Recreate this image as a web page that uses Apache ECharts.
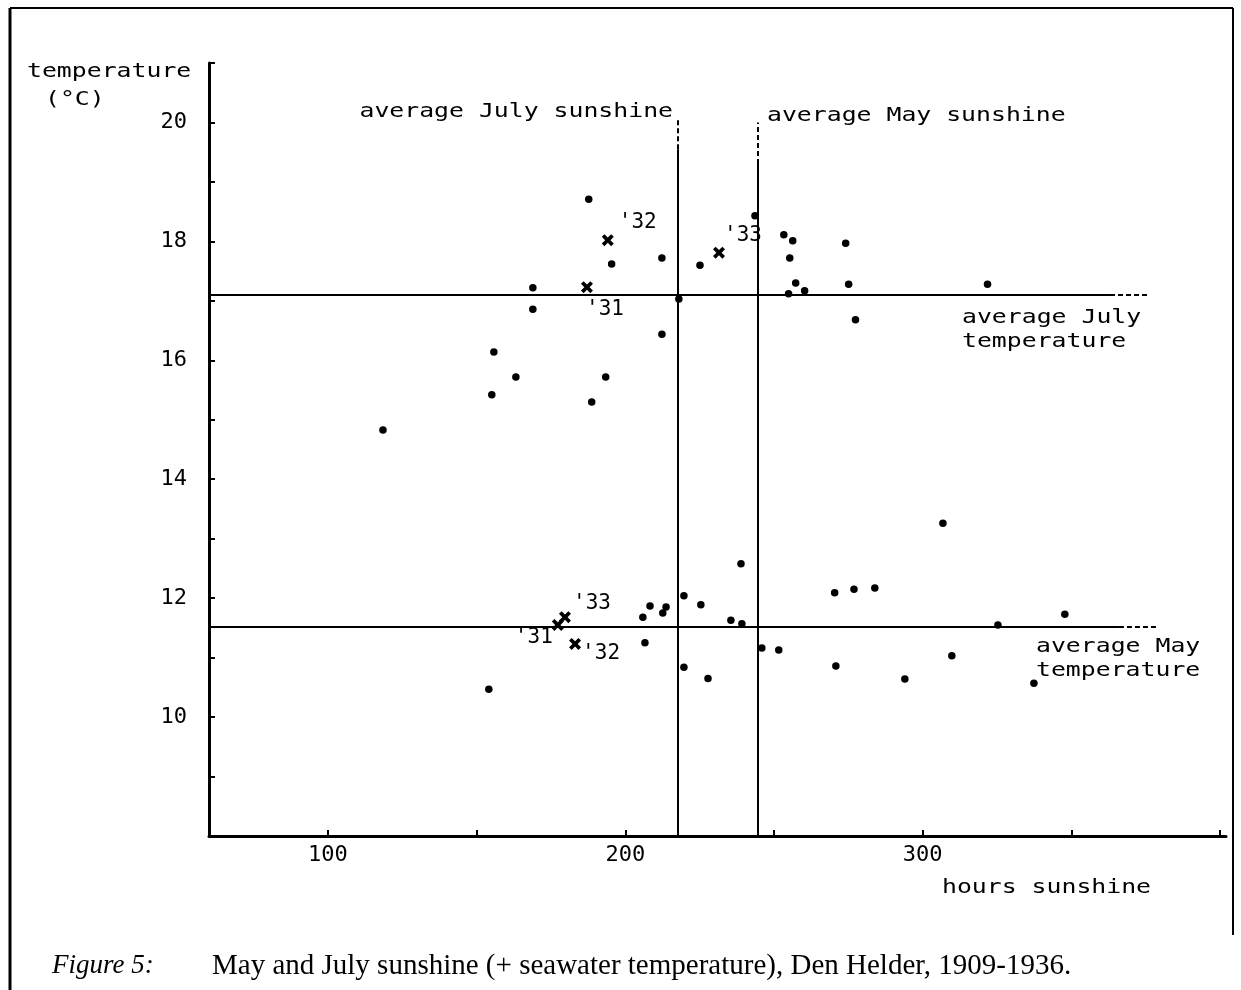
<!DOCTYPE html>
<html>
<head>
<meta charset="utf-8">
<title>May and July sunshine, Den Helder</title>
<script src="https://cdn.jsdelivr.net/npm/echarts@6/dist/echarts.min.js"></script>
<style>
  html, body { margin: 0; padding: 0; background: #fff; }
  #chart { width: 1241px; height: 990px; }
</style>
</head>
<body>
<div id="chart"></div>
<script>
// Monthly sunshine (hours) and seawater temperature (°C), Den Helder 1909-1936
const julySunshine = [118.5, 155.8, 155.1, 163.2, 168.9, 168.9, 187.7, 188.7, 193.4, 195.4,
                      212.3, 212.3, 218.0, 225.1, 243.6, 253.3, 256.3, 255.3, 257.3, 254.9,
                      260.3, 274.1, 275.1, 277.4, 321.8];
const julyTemp     = [14.83, 16.14, 15.42, 15.72, 17.22, 16.86, 18.71, 15.30, 15.72, 17.62,
                      17.72, 16.44, 17.03, 17.60, 18.43, 18.11, 18.01, 17.72, 17.30, 17.12,
                      17.17, 17.97, 17.28, 16.68, 17.28];
const maySunshine  = [154.1, 205.9, 208.3, 212.6, 213.7, 206.6, 219.7, 219.7, 225.4, 227.8,
                      238.9, 235.5, 239.2, 245.9, 251.6, 270.4, 270.8, 306.8, 276.9, 283.9,
                      294.0, 309.8, 325.3, 337.4, 347.8];
const mayTemp      = [10.47, 11.68, 11.87, 11.75, 11.85, 11.25, 12.04, 10.84, 11.89, 10.65,
                      12.58, 11.63, 11.57, 11.16, 11.13, 12.09, 10.86, 13.26, 12.15, 12.17,
                      10.64, 11.03, 11.55, 10.57, 11.73];

// highlighted years 1931-1933
const markedYears      = ["'31", "'32", "'33"];
const julyMarkSunshine = [187.1, 194.1, 231.5];
const julyMarkTemp     = [17.23, 18.02, 17.81];
const mayMarkSunshine  = [177.3, 183.1, 179.7];
const mayMarkTemp      = [11.55, 11.23, 11.68];

// long-term averages
const avgJulySunshine = 217.5;
const avgMaySunshine  = 244.5;
const avgJulyTemp     = 17.1;
const avgMayTemp      = 11.52;

// axis ticks
const xTickValues  = [100, 150, 200, 250, 300, 350, 400];
const xLabelValues = [100, 200, 300];
const yLabelValues = [10, 12, 14, 16, 18, 20];

const MONO = '"DejaVu Sans Mono", monospace';
const INK = '#000';

// label offsets for the year marks (pixels, relative to the mark)
const julyYearOffsets = [[18, 22], [30, -18], [24, -17]];
const mayYearOffsets  = [[-24, 13], [26, 10], [27, -14]];

function pairs(xs, ys) { return xs.map((x, i) => [x, ys[i]]); }

function yearMarks(xs, ys, offsets) {
  return xs.map((x, i) => ({
    value: [x, ys[i]],
    label: {
      show: true, formatter: markedYears[i], offset: offsets[i], position: 'inside',
      color: INK, textBorderWidth: 0, fontFamily: MONO, fontSize: 21
    }
  }));
}

const crossPath = 'path://M2.2,0 L5,2.8 L7.8,0 L10,2.2 L7.2,5 L10,7.8 L7.8,10 L5,7.2 L2.2,10 L0,7.8 L2.8,5 L0,2.2 Z';

const solid = { type: 'solid', width: 2, color: INK };
const dashed = { type: [5, 3], width: 2, color: INK };

function seg(x1, y1, x2, y2, style) {
  return [{ coord: [x1, y1], lineStyle: style }, { coord: [x2, y2] }];
}

function monoText(x, y, text, align, sx) {
  return {
    type: 'text', x: x, y: y, scaleX: sx || 1.24, silent: true,
    style: { text: text, font: '20px ' + MONO, fill: INK, align: align || 'left', verticalAlign: 'middle' }
  };
}

const option = {
  backgroundColor: '#fff',
  animation: false,
  grid: { left: 209, top: 63, width: 1017, height: 773, containLabel: false },
  xAxis: {
    type: 'value', min: 60, max: 402,
    axisLine: { show: true, onZero: false, lineStyle: { color: INK, width: 3 } },
    axisTick: { show: true, inside: true, length: 6, lineStyle: { color: INK, width: 2 }, customValues: xTickValues },
    axisLabel: { color: INK, fontFamily: MONO, fontSize: 22, margin: 8, customValues: xLabelValues },
    splitLine: { show: false }
  },
  yAxis: {
    type: 'value', min: 8, max: 21, interval: 1,
    axisLine: { show: true, onZero: false, lineStyle: { color: INK, width: 3 } },
    axisTick: { show: true, inside: true, length: 6, lineStyle: { color: INK, width: 2 } },
    axisLabel: { color: INK, fontFamily: MONO, fontSize: 22, margin: 22, customValues: yLabelValues },
    splitLine: { show: false }
  },
  series: [
    {
      name: 'reference', type: 'scatter', data: [], silent: true,
      markLine: {
        silent: true, symbol: ['none', 'none'], label: { show: false },
        data: [
          seg(avgJulySunshine, 8, avgJulySunshine, 19.55, solid),
          seg(avgJulySunshine, 19.55, avgJulySunshine, 20.05, dashed),
          seg(avgMaySunshine, 8, avgMaySunshine, 19.3, solid),
          seg(avgMaySunshine, 19.3, avgMaySunshine, 20.0, dashed),
          seg(60, avgJulyTemp, 363, avgJulyTemp, solid),
          seg(363, avgJulyTemp, 376, avgJulyTemp, dashed),
          seg(60, avgMayTemp, 366, avgMayTemp, solid),
          seg(366, avgMayTemp, 379, avgMayTemp, dashed)
        ]
      }
    },
    {
      name: 'July', type: 'scatter', symbol: 'circle', symbolSize: 7.5,
      itemStyle: { color: INK, opacity: 1 }, data: pairs(julySunshine, julyTemp)
    },
    {
      name: 'May', type: 'scatter', symbol: 'circle', symbolSize: 7.5,
      itemStyle: { color: INK, opacity: 1 }, data: pairs(maySunshine, mayTemp)
    },
    {
      name: 'July 1931-33', type: 'scatter', symbol: crossPath, symbolSize: 12,
      itemStyle: { color: INK, opacity: 1 },
      data: yearMarks(julyMarkSunshine, julyMarkTemp, julyYearOffsets)
    },
    {
      name: 'May 1931-33', type: 'scatter', symbol: crossPath, symbolSize: 12,
      itemStyle: { color: INK, opacity: 1 },
      data: yearMarks(mayMarkSunshine, mayMarkTemp, mayYearOffsets)
    }
  ],
  graphic: [
    // axis titles
    monoText(27, 72, 'temperature'),
    monoText(45, 100, '(°C)'),
    monoText(942, 888, 'hours sunshine'),
    // reference line captions
    monoText(673, 112, 'average July sunshine', 'right'),
    monoText(767, 116, 'average May sunshine'),
    monoText(962, 318, 'average July'),
    monoText(962, 342, 'temperature'),
    monoText(1036, 647, 'average May'),
    monoText(1036, 671, 'temperature'),
    // figure caption
    {
      type: 'text', x: 52, y: 966, silent: true,
      style: { text: 'Figure 5:', font: 'italic 27px "Liberation Serif", serif', fill: INK, verticalAlign: 'middle' }
    },
    {
      type: 'text', x: 212, y: 966, silent: true,
      style: { text: 'May and July sunshine (+ seawater temperature), Den Helder, 1909-1936.',
               font: '29px "Liberation Serif", serif', fill: INK, verticalAlign: 'middle' }
    },
    // page frame
    { type: 'line', silent: true, shape: { x1: 10, y1: 8, x2: 1233, y2: 8 }, style: { stroke: INK, lineWidth: 2 } },
    { type: 'line', silent: true, shape: { x1: 10, y1: 8, x2: 10, y2: 990 }, style: { stroke: INK, lineWidth: 3 } },
    { type: 'line', silent: true, shape: { x1: 1233, y1: 8, x2: 1233, y2: 935 }, style: { stroke: INK, lineWidth: 2 } }
  ]
};

const chart = echarts.init(document.getElementById('chart'), null, { renderer: 'canvas' });
chart.setOption(option);
</script>
</body>
</html>
